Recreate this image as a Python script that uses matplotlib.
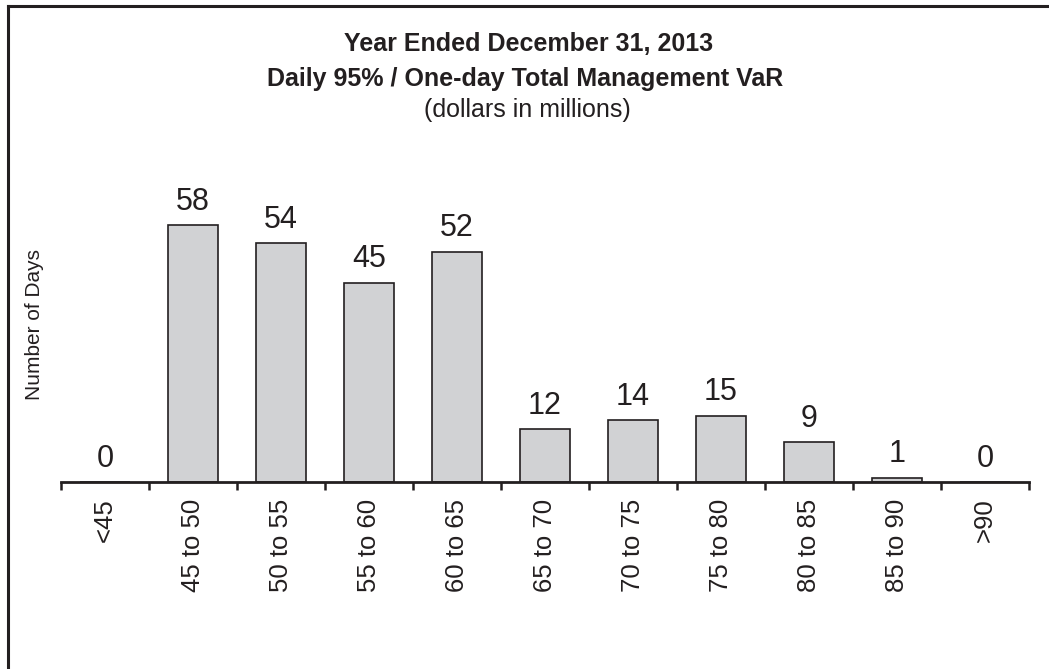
import numpy as np
import matplotlib
matplotlib.use("Agg")
import matplotlib.pyplot as plt
from matplotlib.lines import Line2D

plt.rcParams["font.family"] = ["Liberation Sans", "DejaVu Sans"]

# data
bins = ["<45", "45 to 50", "50 to 55", "55 to 60", "60 to 65", "65 to 70",
        "70 to 75", "75 to 80", "80 to 85", "85 to 90", ">90"]
days = [0, 58, 54, 45, 52, 12, 14, 15, 9, 1, 0]

title_1 = "Year Ended December 31, 2013"
title_2 = "Daily 95% / One-day Total Management VaR"
title_3 = "(dollars in millions)"

W, H = 1049, 669
INK = "#231f20"
BAR = "#d1d2d4"

fig = plt.figure(figsize=(W / 100, H / 100), dpi=100)
ax = fig.add_axes([61 / W, 1 - 482 / H, 968 / W, 310 / H])

x = np.arange(len(bins))
bars = ax.bar(x, days, width=0.57, color=BAR, edgecolor=INK, linewidth=1.2)

for xi, v in zip(x, days):
    ax.annotate(str(v), (xi, v), xytext=(0, 11), textcoords="offset points",
                ha="center", va="baseline", fontsize=22, color=INK)

ax.set_xlim(-0.5, len(bins) - 0.5)
ax.set_ylim(0, 70)

# ticks at bin edges, labels at bin centres
ax.set_xticks(np.arange(len(bins) + 1) - 0.5)
ax.set_xticklabels([])
ax.set_xticks(x, minor=True)
ax.set_xticklabels(bins, minor=True, rotation=90, fontsize=18.5, color=INK)
ax.tick_params(axis="x", which="major", direction="out", length=5.5,
               width=1.8, color=INK)
ax.tick_params(axis="x", which="minor", length=0, pad=12)
ax.set_yticks([])

for s in ["top", "right", "left"]:
    ax.spines[s].set_visible(False)
ax.spines["bottom"].set_linewidth(2)
ax.spines["bottom"].set_color(INK)

fig.text(35 / W, 1 - 325 / H, "Number of Days", rotation=90, ha="center",
         va="center", fontsize=15, color=INK)

fig.text(529 / W, 1 - 44 / H, title_1, ha="center", va="center",
         fontsize=18, fontweight="bold", color=INK)
fig.text(525 / W, 1 - 79 / H, title_2, ha="center", va="center",
         fontsize=18, fontweight="bold", color=INK)
fig.text(527 / W, 1 - 110 / H, title_3, ha="center", va="center",
         fontsize=18, color=INK)

# frame (right and bottom edges are cropped off in the source)
fig.add_artist(Line2D([8 / W, 8 / W], [0, 1 - 6 / H], color=INK, lw=2.2,
                      transform=fig.transFigure))
fig.add_artist(Line2D([8 / W, 1], [1 - 6 / H, 1 - 6 / H], color=INK, lw=2.2,
                      transform=fig.transFigure))

fig.savefig("out.png", dpi=100)
